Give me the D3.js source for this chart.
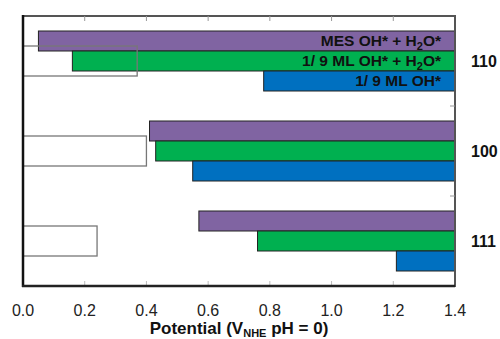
<!DOCTYPE html>
<html>
<head>
<meta charset="utf-8">
<script src="https://cdn.jsdelivr.net/npm/d3@7"></script>
<style>
  body { margin: 0; background: #fff; }
  text { font-family: "Liberation Sans", Arial, sans-serif; }
</style>
</head>
<body>
<div id="viz"></div>
<script>
// facets (surfaces) and series
var facets = ["110", "100", "111"];
var seriesNames = ["MES", "OH_H2O", "OH"];
var mesOhH2o = [0.05, 0.41, 0.57];   // purple
var ohH2o = [0.16, 0.43, 0.76];      // green
var ohOnly = [0.78, 0.55, 1.21];     // blue
var openBox = [0.37, 0.40, 0.24];    // hollow outline bars
var xTicks = [0.0, 0.2, 0.4, 0.6, 0.8, 1.0, 1.2, 1.4];

var colors = { MES: "#8064a2", OH_H2O: "#00b050", OH: "#0070c0" };
var values = { MES: mesOhH2o, OH_H2O: ohH2o, OH: ohOnly };

var margin = { top: 16, right: 45, bottom: 53, left: 23 },
    width = 500 - margin.left - margin.right,
    height = 339 - margin.top - margin.bottom;

var svg = d3.select("#viz")
  .append("svg")
  .attr("width", 500)
  .attr("height", 339)
  .append("g")
  .attr("transform", "translate(" + margin.left + "," + margin.top + ")");

var x = d3.scaleLinear().domain([0, 1.4]).range([0, width]);
var y0 = d3.scaleBand().domain(facets).range([0, height]);
var y1 = d3.scaleBand().domain(seriesNames).range([0, y0.bandwidth()])
  .paddingInner(0).paddingOuter(0.75);

// coloured bars, drawn from the value out to the right edge
var groups = svg.selectAll(".grp")
  .data(facets)
  .enter().append("g")
  .attr("transform", d => "translate(0," + y0(d) + ")");

groups.selectAll("rect.bar")
  .data((f, i) => seriesNames.map(s => ({ s: s, v: values[s][i] })))
  .enter().append("rect")
  .attr("class", "bar")
  .attr("x", d => x(d.v))
  .attr("y", d => y1(d.s))
  .attr("width", d => x(1.4) - x(d.v))
  .attr("height", y1.bandwidth())
  .attr("fill", d => colors[d.s])
  .attr("stroke", "#222")
  .attr("stroke-width", 1);

// hollow bars from zero
groups.append("rect")
  .attr("x", x(0))
  .attr("y", y0.bandwidth() / 2 - 15)
  .attr("width", (f, i) => x(openBox[i]) - x(0))
  .attr("height", 30)
  .attr("fill", "none")
  .attr("stroke", "#777")
  .attr("stroke-width", 1.3);

// legend text inside the 110 bars
var g110 = groups.filter(d => d === "110");
var labels = [
  { s: "MES", parts: ["MES OH* + H", "2", "O*"] },
  { s: "OH_H2O", parts: ["1/ 9 ML OH* + H", "2", "O*"] },
  { s: "OH", parts: ["1/ 9 ML OH*"] }
];
labels.forEach(function (l) {
  var t = g110.append("text")
    .attr("x", width - 14)
    .attr("y", y1(l.s) + 15)
    .attr("text-anchor", "end")
    .style("font-size", "15.5px")
    .style("font-weight", "bold")
    .attr("fill", "#111");
  t.append("tspan").text(l.parts[0]);
  if (l.parts.length > 1) {
    t.append("tspan").attr("dy", 4).style("font-size", "11px").text(l.parts[1]);
    t.append("tspan").attr("dy", -4).text(l.parts[2]);
  }
});

// frame
svg.append("rect")
  .attr("width", width)
  .attr("height", height)
  .attr("fill", "none")
  .attr("stroke", "#555")
  .attr("stroke-width", 2);

// inner ticks top and bottom
var inner = xTicks.slice(1, -1);
svg.selectAll(".tt").data(inner).enter().append("line")
  .attr("x1", d => x(d)).attr("x2", d => x(d))
  .attr("y1", 0).attr("y2", 5)
  .attr("stroke", "#999");
svg.selectAll(".bt").data(inner).enter().append("line")
  .attr("x1", d => x(d)).attr("x2", d => x(d))
  .attr("y1", height).attr("y2", height - 5)
  .attr("stroke", "#bbb");
// right ticks at group boundaries
svg.selectAll(".rt").data(facets.slice(1)).enter().append("line")
  .attr("x1", width).attr("x2", width - 5)
  .attr("y1", d => y0(d)).attr("y2", d => y0(d))
  .attr("stroke", "#999");

// left and bottom axis lines
svg.append("line").attr("x1", 0).attr("x2", 0).attr("y1", -1).attr("y2", height + 1)
  .attr("stroke", "#111").attr("stroke-width", 2.5);
svg.append("line").attr("x1", -1).attr("x2", width).attr("y1", height).attr("y2", height)
  .attr("stroke", "#222").attr("stroke-width", 2.5);

// x tick labels
svg.selectAll(".xl").data(xTicks).enter().append("text")
  .attr("x", d => x(d))
  .attr("y", height + 30)
  .attr("text-anchor", "middle")
  .style("font-size", "16px")
  .attr("fill", "#222")
  .text(d => d.toFixed(1));

// facet labels on the right
svg.selectAll(".fl").data(facets).enter().append("text")
  .attr("x", width + 16)
  .attr("y", d => y0(d) + y0.bandwidth() / 2 + 6)
  .style("font-size", "16px")
  .style("font-weight", "bold")
  .attr("fill", "#111")
  .text(d => d);

// axis title
var title = svg.append("text")
  .attr("x", 216)
  .attr("y", height + 48)
  .attr("text-anchor", "middle")
  .style("font-size", "17px")
  .style("font-weight", "bold")
  .attr("fill", "#111");
title.append("tspan").text("Potential (V");
title.append("tspan").attr("dy", 3).style("font-size", "11px").text("NHE");
title.append("tspan").attr("dy", -3).text(" pH = 0)");
</script>
</body>
</html>
